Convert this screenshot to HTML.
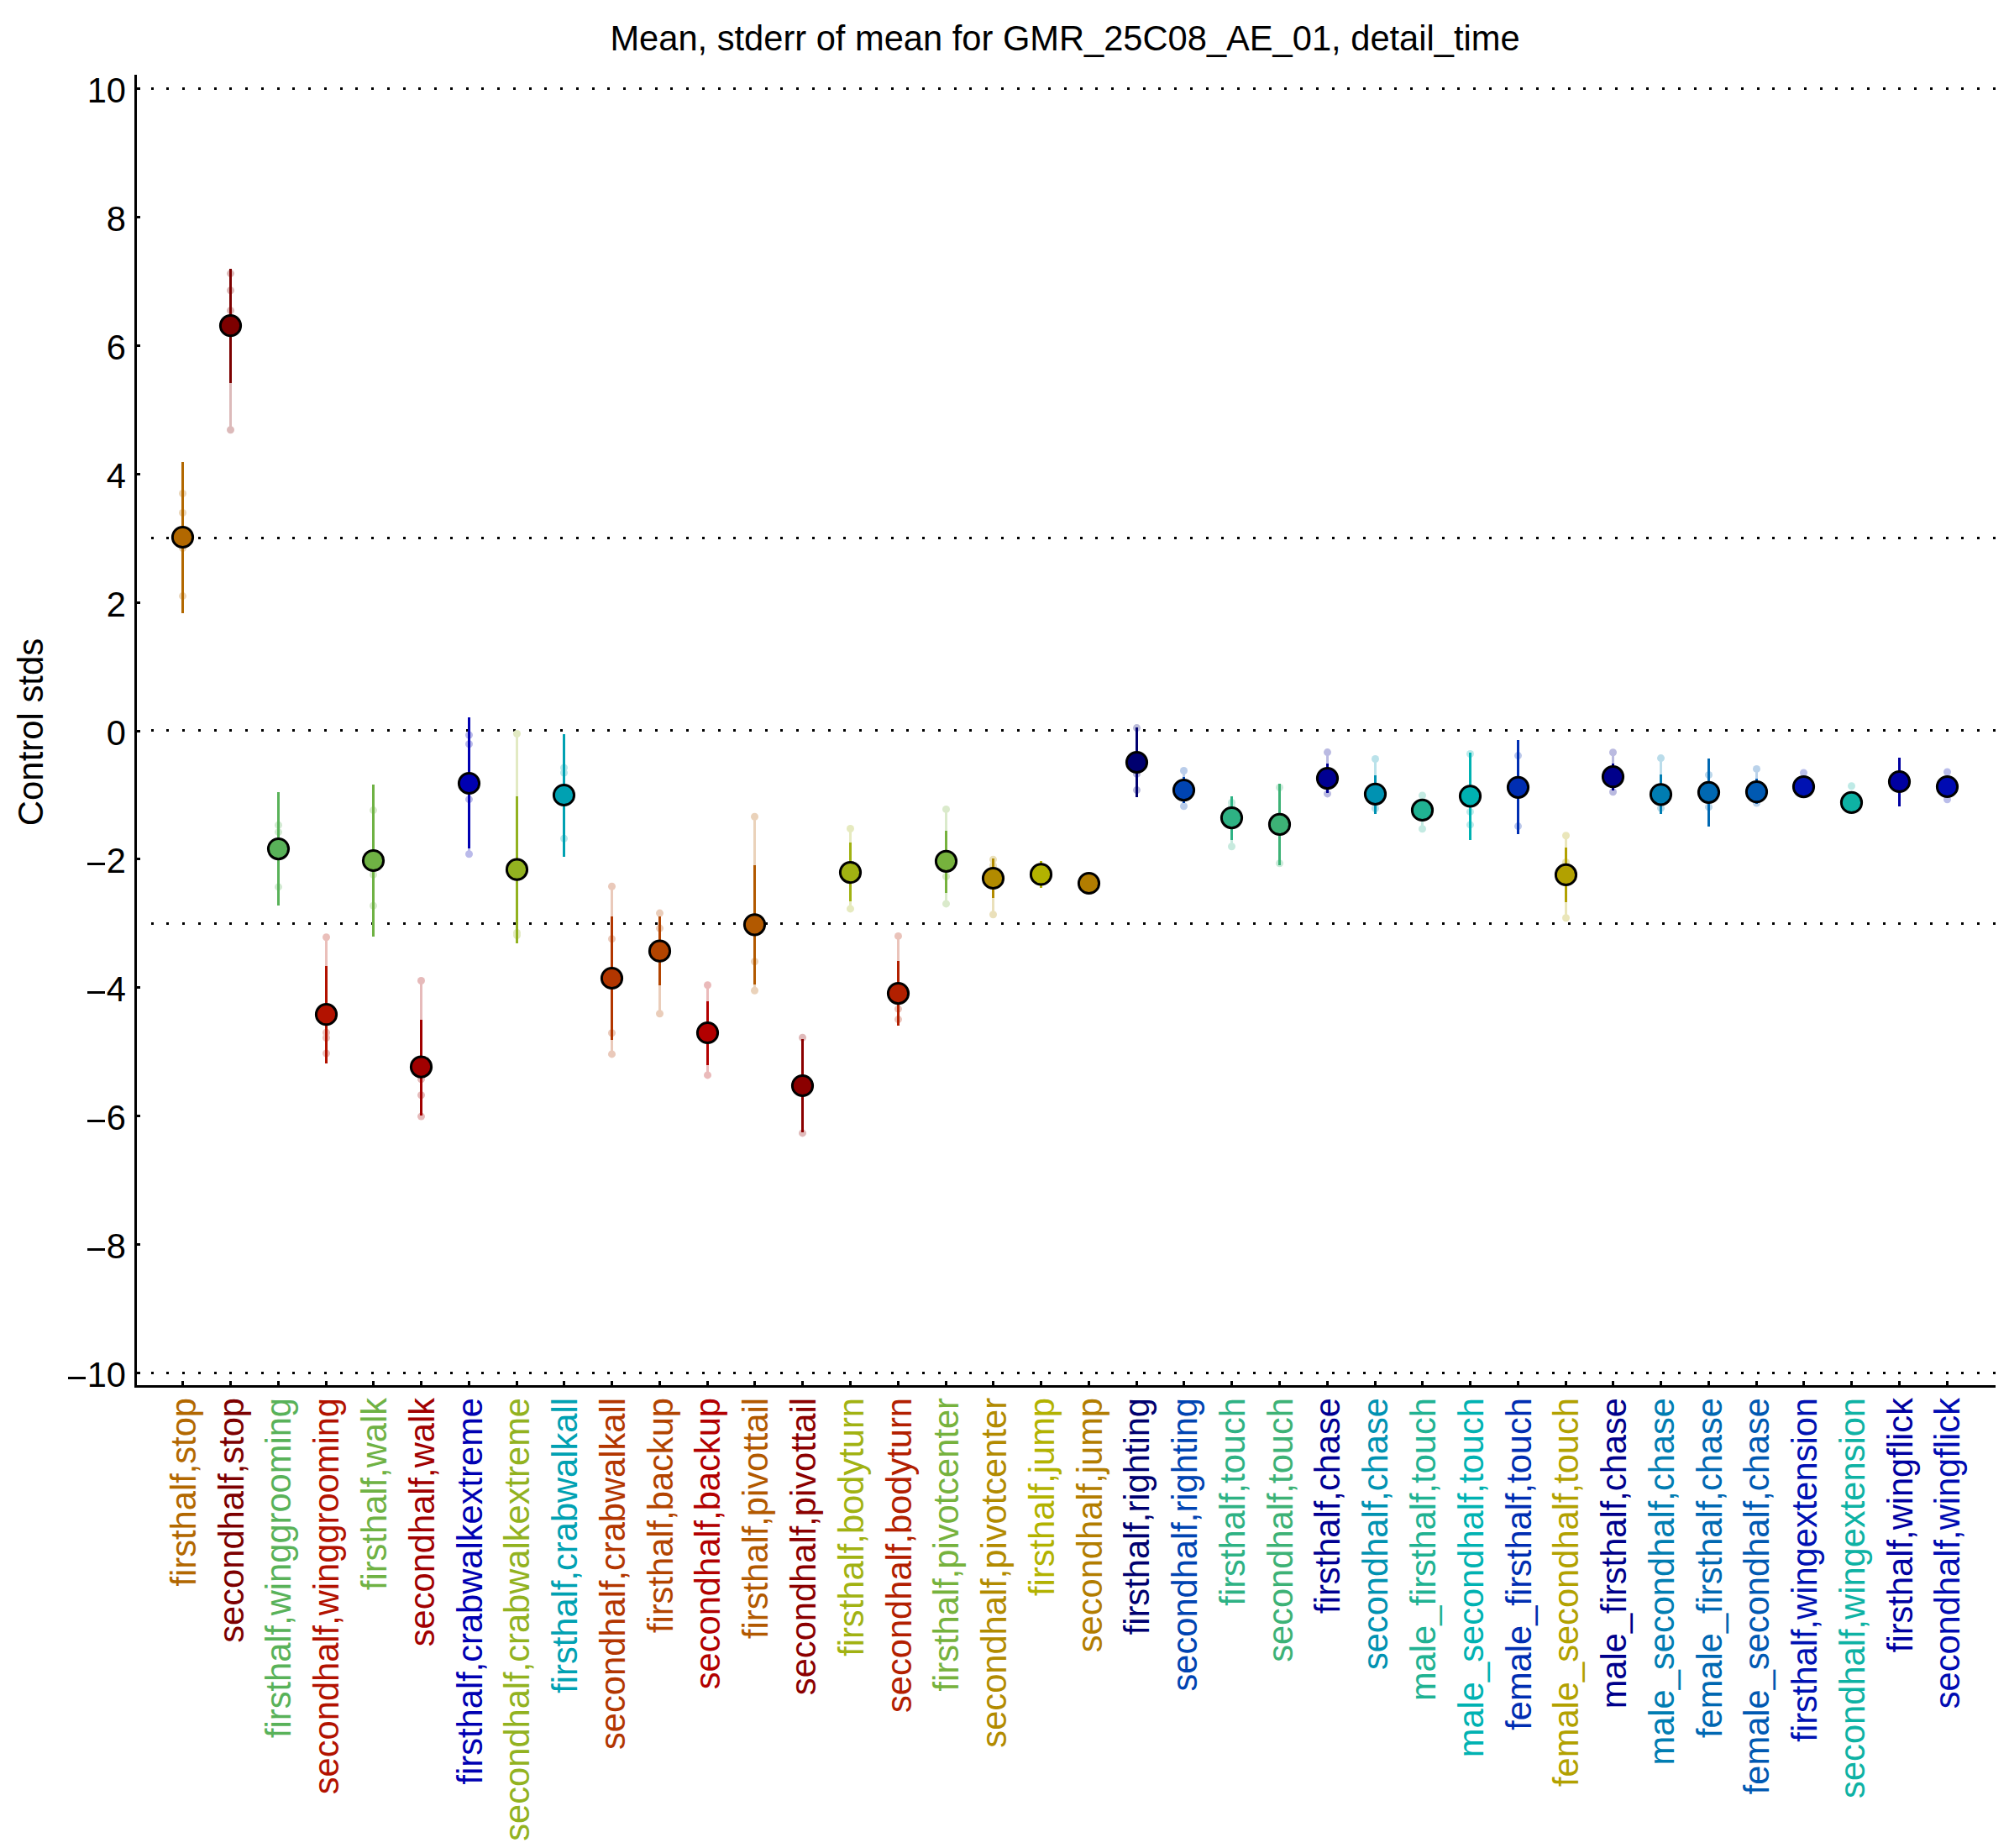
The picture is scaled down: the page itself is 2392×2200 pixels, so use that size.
<!DOCTYPE html><html><head><meta charset="utf-8"><style>html,body{margin:0;padding:0;background:#fff;width:2392px;height:2200px;overflow:hidden}svg{display:block}text{font-family:"Liberation Sans",sans-serif}</style></head><body>
<svg width="2392" height="2200" viewBox="0 0 2392 2200">
<rect width="2392" height="2200" fill="#fff"/>
<text transform="translate(1268,60) scale(1,1.035)" font-size="41.65" text-anchor="middle" fill="#000">Mean, stderr of mean for GMR_25C08_AE_01, detail_time</text>
<text transform="translate(51,871.5) rotate(-90) scale(1.005,1.04)" font-size="41.65" text-anchor="middle" fill="#000">Control stds</text>
<path fill="#000" d="M180 104h3v3h-3zM198 104h3v3h-3zM217 104h3v3h-3zM236 104h3v3h-3zM255 104h3v3h-3zM273 104h3v3h-3zM292 104h3v3h-3zM311 104h3v3h-3zM330 104h3v3h-3zM348 104h3v3h-3zM367 104h3v3h-3zM386 104h3v3h-3zM405 104h3v3h-3zM423 104h3v3h-3zM442 104h3v3h-3zM461 104h3v3h-3zM480 104h3v3h-3zM498 104h3v3h-3zM517 104h3v3h-3zM536 104h3v3h-3zM555 104h3v3h-3zM573 104h3v3h-3zM592 104h3v3h-3zM611 104h3v3h-3zM630 104h3v3h-3zM648 104h3v3h-3zM667 104h3v3h-3zM686 104h3v3h-3zM705 104h3v3h-3zM723 104h3v3h-3zM742 104h3v3h-3zM761 104h3v3h-3zM780 104h3v3h-3zM798 104h3v3h-3zM817 104h3v3h-3zM836 104h3v3h-3zM855 104h3v3h-3zM873 104h3v3h-3zM892 104h3v3h-3zM911 104h3v3h-3zM929 104h3v3h-3zM948 104h3v3h-3zM967 104h3v3h-3zM986 104h3v3h-3zM1004 104h3v3h-3zM1023 104h3v3h-3zM1042 104h3v3h-3zM1061 104h3v3h-3zM1079 104h3v3h-3zM1098 104h3v3h-3zM1117 104h3v3h-3zM1136 104h3v3h-3zM1154 104h3v3h-3zM1173 104h3v3h-3zM1192 104h3v3h-3zM1211 104h3v3h-3zM1229 104h3v3h-3zM1248 104h3v3h-3zM1267 104h3v3h-3zM1286 104h3v3h-3zM1304 104h3v3h-3zM1323 104h3v3h-3zM1342 104h3v3h-3zM1361 104h3v3h-3zM1379 104h3v3h-3zM1398 104h3v3h-3zM1417 104h3v3h-3zM1436 104h3v3h-3zM1454 104h3v3h-3zM1473 104h3v3h-3zM1492 104h3v3h-3zM1511 104h3v3h-3zM1529 104h3v3h-3zM1548 104h3v3h-3zM1567 104h3v3h-3zM1586 104h3v3h-3zM1604 104h3v3h-3zM1623 104h3v3h-3zM1642 104h3v3h-3zM1660 104h3v3h-3zM1679 104h3v3h-3zM1698 104h3v3h-3zM1717 104h3v3h-3zM1735 104h3v3h-3zM1754 104h3v3h-3zM1773 104h3v3h-3zM1792 104h3v3h-3zM1810 104h3v3h-3zM1829 104h3v3h-3zM1848 104h3v3h-3zM1867 104h3v3h-3zM1885 104h3v3h-3zM1904 104h3v3h-3zM1923 104h3v3h-3zM1942 104h3v3h-3zM1960 104h3v3h-3zM1979 104h3v3h-3zM1998 104h3v3h-3zM2017 104h3v3h-3zM2035 104h3v3h-3zM2054 104h3v3h-3zM2073 104h3v3h-3zM2092 104h3v3h-3zM2110 104h3v3h-3zM2129 104h3v3h-3zM2148 104h3v3h-3zM2167 104h3v3h-3zM2185 104h3v3h-3zM2204 104h3v3h-3zM2223 104h3v3h-3zM2242 104h3v3h-3zM2260 104h3v3h-3zM2279 104h3v3h-3zM2298 104h3v3h-3zM2317 104h3v3h-3zM2335 104h3v3h-3zM2354 104h3v3h-3zM2373 104h3v3h-3zM180 639h3v3h-3zM198 639h3v3h-3zM217 639h3v3h-3zM236 639h3v3h-3zM255 639h3v3h-3zM273 639h3v3h-3zM292 639h3v3h-3zM311 639h3v3h-3zM330 639h3v3h-3zM348 639h3v3h-3zM367 639h3v3h-3zM386 639h3v3h-3zM405 639h3v3h-3zM423 639h3v3h-3zM442 639h3v3h-3zM461 639h3v3h-3zM480 639h3v3h-3zM498 639h3v3h-3zM517 639h3v3h-3zM536 639h3v3h-3zM555 639h3v3h-3zM573 639h3v3h-3zM592 639h3v3h-3zM611 639h3v3h-3zM630 639h3v3h-3zM648 639h3v3h-3zM667 639h3v3h-3zM686 639h3v3h-3zM705 639h3v3h-3zM723 639h3v3h-3zM742 639h3v3h-3zM761 639h3v3h-3zM780 639h3v3h-3zM798 639h3v3h-3zM817 639h3v3h-3zM836 639h3v3h-3zM855 639h3v3h-3zM873 639h3v3h-3zM892 639h3v3h-3zM911 639h3v3h-3zM929 639h3v3h-3zM948 639h3v3h-3zM967 639h3v3h-3zM986 639h3v3h-3zM1004 639h3v3h-3zM1023 639h3v3h-3zM1042 639h3v3h-3zM1061 639h3v3h-3zM1079 639h3v3h-3zM1098 639h3v3h-3zM1117 639h3v3h-3zM1136 639h3v3h-3zM1154 639h3v3h-3zM1173 639h3v3h-3zM1192 639h3v3h-3zM1211 639h3v3h-3zM1229 639h3v3h-3zM1248 639h3v3h-3zM1267 639h3v3h-3zM1286 639h3v3h-3zM1304 639h3v3h-3zM1323 639h3v3h-3zM1342 639h3v3h-3zM1361 639h3v3h-3zM1379 639h3v3h-3zM1398 639h3v3h-3zM1417 639h3v3h-3zM1436 639h3v3h-3zM1454 639h3v3h-3zM1473 639h3v3h-3zM1492 639h3v3h-3zM1511 639h3v3h-3zM1529 639h3v3h-3zM1548 639h3v3h-3zM1567 639h3v3h-3zM1586 639h3v3h-3zM1604 639h3v3h-3zM1623 639h3v3h-3zM1642 639h3v3h-3zM1660 639h3v3h-3zM1679 639h3v3h-3zM1698 639h3v3h-3zM1717 639h3v3h-3zM1735 639h3v3h-3zM1754 639h3v3h-3zM1773 639h3v3h-3zM1792 639h3v3h-3zM1810 639h3v3h-3zM1829 639h3v3h-3zM1848 639h3v3h-3zM1867 639h3v3h-3zM1885 639h3v3h-3zM1904 639h3v3h-3zM1923 639h3v3h-3zM1942 639h3v3h-3zM1960 639h3v3h-3zM1979 639h3v3h-3zM1998 639h3v3h-3zM2017 639h3v3h-3zM2035 639h3v3h-3zM2054 639h3v3h-3zM2073 639h3v3h-3zM2092 639h3v3h-3zM2110 639h3v3h-3zM2129 639h3v3h-3zM2148 639h3v3h-3zM2167 639h3v3h-3zM2185 639h3v3h-3zM2204 639h3v3h-3zM2223 639h3v3h-3zM2242 639h3v3h-3zM2260 639h3v3h-3zM2279 639h3v3h-3zM2298 639h3v3h-3zM2317 639h3v3h-3zM2335 639h3v3h-3zM2354 639h3v3h-3zM2373 639h3v3h-3zM180 868h3v3h-3zM198 868h3v3h-3zM217 868h3v3h-3zM236 868h3v3h-3zM255 868h3v3h-3zM273 868h3v3h-3zM292 868h3v3h-3zM311 868h3v3h-3zM330 868h3v3h-3zM348 868h3v3h-3zM367 868h3v3h-3zM386 868h3v3h-3zM405 868h3v3h-3zM423 868h3v3h-3zM442 868h3v3h-3zM461 868h3v3h-3zM480 868h3v3h-3zM498 868h3v3h-3zM517 868h3v3h-3zM536 868h3v3h-3zM555 868h3v3h-3zM573 868h3v3h-3zM592 868h3v3h-3zM611 868h3v3h-3zM630 868h3v3h-3zM648 868h3v3h-3zM667 868h3v3h-3zM686 868h3v3h-3zM705 868h3v3h-3zM723 868h3v3h-3zM742 868h3v3h-3zM761 868h3v3h-3zM780 868h3v3h-3zM798 868h3v3h-3zM817 868h3v3h-3zM836 868h3v3h-3zM855 868h3v3h-3zM873 868h3v3h-3zM892 868h3v3h-3zM911 868h3v3h-3zM929 868h3v3h-3zM948 868h3v3h-3zM967 868h3v3h-3zM986 868h3v3h-3zM1004 868h3v3h-3zM1023 868h3v3h-3zM1042 868h3v3h-3zM1061 868h3v3h-3zM1079 868h3v3h-3zM1098 868h3v3h-3zM1117 868h3v3h-3zM1136 868h3v3h-3zM1154 868h3v3h-3zM1173 868h3v3h-3zM1192 868h3v3h-3zM1211 868h3v3h-3zM1229 868h3v3h-3zM1248 868h3v3h-3zM1267 868h3v3h-3zM1286 868h3v3h-3zM1304 868h3v3h-3zM1323 868h3v3h-3zM1342 868h3v3h-3zM1361 868h3v3h-3zM1379 868h3v3h-3zM1398 868h3v3h-3zM1417 868h3v3h-3zM1436 868h3v3h-3zM1454 868h3v3h-3zM1473 868h3v3h-3zM1492 868h3v3h-3zM1511 868h3v3h-3zM1529 868h3v3h-3zM1548 868h3v3h-3zM1567 868h3v3h-3zM1586 868h3v3h-3zM1604 868h3v3h-3zM1623 868h3v3h-3zM1642 868h3v3h-3zM1660 868h3v3h-3zM1679 868h3v3h-3zM1698 868h3v3h-3zM1717 868h3v3h-3zM1735 868h3v3h-3zM1754 868h3v3h-3zM1773 868h3v3h-3zM1792 868h3v3h-3zM1810 868h3v3h-3zM1829 868h3v3h-3zM1848 868h3v3h-3zM1867 868h3v3h-3zM1885 868h3v3h-3zM1904 868h3v3h-3zM1923 868h3v3h-3zM1942 868h3v3h-3zM1960 868h3v3h-3zM1979 868h3v3h-3zM1998 868h3v3h-3zM2017 868h3v3h-3zM2035 868h3v3h-3zM2054 868h3v3h-3zM2073 868h3v3h-3zM2092 868h3v3h-3zM2110 868h3v3h-3zM2129 868h3v3h-3zM2148 868h3v3h-3zM2167 868h3v3h-3zM2185 868h3v3h-3zM2204 868h3v3h-3zM2223 868h3v3h-3zM2242 868h3v3h-3zM2260 868h3v3h-3zM2279 868h3v3h-3zM2298 868h3v3h-3zM2317 868h3v3h-3zM2335 868h3v3h-3zM2354 868h3v3h-3zM2373 868h3v3h-3zM180 1098h3v3h-3zM198 1098h3v3h-3zM217 1098h3v3h-3zM236 1098h3v3h-3zM255 1098h3v3h-3zM273 1098h3v3h-3zM292 1098h3v3h-3zM311 1098h3v3h-3zM330 1098h3v3h-3zM348 1098h3v3h-3zM367 1098h3v3h-3zM386 1098h3v3h-3zM405 1098h3v3h-3zM423 1098h3v3h-3zM442 1098h3v3h-3zM461 1098h3v3h-3zM480 1098h3v3h-3zM498 1098h3v3h-3zM517 1098h3v3h-3zM536 1098h3v3h-3zM555 1098h3v3h-3zM573 1098h3v3h-3zM592 1098h3v3h-3zM611 1098h3v3h-3zM630 1098h3v3h-3zM648 1098h3v3h-3zM667 1098h3v3h-3zM686 1098h3v3h-3zM705 1098h3v3h-3zM723 1098h3v3h-3zM742 1098h3v3h-3zM761 1098h3v3h-3zM780 1098h3v3h-3zM798 1098h3v3h-3zM817 1098h3v3h-3zM836 1098h3v3h-3zM855 1098h3v3h-3zM873 1098h3v3h-3zM892 1098h3v3h-3zM911 1098h3v3h-3zM929 1098h3v3h-3zM948 1098h3v3h-3zM967 1098h3v3h-3zM986 1098h3v3h-3zM1004 1098h3v3h-3zM1023 1098h3v3h-3zM1042 1098h3v3h-3zM1061 1098h3v3h-3zM1079 1098h3v3h-3zM1098 1098h3v3h-3zM1117 1098h3v3h-3zM1136 1098h3v3h-3zM1154 1098h3v3h-3zM1173 1098h3v3h-3zM1192 1098h3v3h-3zM1211 1098h3v3h-3zM1229 1098h3v3h-3zM1248 1098h3v3h-3zM1267 1098h3v3h-3zM1286 1098h3v3h-3zM1304 1098h3v3h-3zM1323 1098h3v3h-3zM1342 1098h3v3h-3zM1361 1098h3v3h-3zM1379 1098h3v3h-3zM1398 1098h3v3h-3zM1417 1098h3v3h-3zM1436 1098h3v3h-3zM1454 1098h3v3h-3zM1473 1098h3v3h-3zM1492 1098h3v3h-3zM1511 1098h3v3h-3zM1529 1098h3v3h-3zM1548 1098h3v3h-3zM1567 1098h3v3h-3zM1586 1098h3v3h-3zM1604 1098h3v3h-3zM1623 1098h3v3h-3zM1642 1098h3v3h-3zM1660 1098h3v3h-3zM1679 1098h3v3h-3zM1698 1098h3v3h-3zM1717 1098h3v3h-3zM1735 1098h3v3h-3zM1754 1098h3v3h-3zM1773 1098h3v3h-3zM1792 1098h3v3h-3zM1810 1098h3v3h-3zM1829 1098h3v3h-3zM1848 1098h3v3h-3zM1867 1098h3v3h-3zM1885 1098h3v3h-3zM1904 1098h3v3h-3zM1923 1098h3v3h-3zM1942 1098h3v3h-3zM1960 1098h3v3h-3zM1979 1098h3v3h-3zM1998 1098h3v3h-3zM2017 1098h3v3h-3zM2035 1098h3v3h-3zM2054 1098h3v3h-3zM2073 1098h3v3h-3zM2092 1098h3v3h-3zM2110 1098h3v3h-3zM2129 1098h3v3h-3zM2148 1098h3v3h-3zM2167 1098h3v3h-3zM2185 1098h3v3h-3zM2204 1098h3v3h-3zM2223 1098h3v3h-3zM2242 1098h3v3h-3zM2260 1098h3v3h-3zM2279 1098h3v3h-3zM2298 1098h3v3h-3zM2317 1098h3v3h-3zM2335 1098h3v3h-3zM2354 1098h3v3h-3zM2373 1098h3v3h-3zM180 1633h3v3h-3zM198 1633h3v3h-3zM217 1633h3v3h-3zM236 1633h3v3h-3zM255 1633h3v3h-3zM273 1633h3v3h-3zM292 1633h3v3h-3zM311 1633h3v3h-3zM330 1633h3v3h-3zM348 1633h3v3h-3zM367 1633h3v3h-3zM386 1633h3v3h-3zM405 1633h3v3h-3zM423 1633h3v3h-3zM442 1633h3v3h-3zM461 1633h3v3h-3zM480 1633h3v3h-3zM498 1633h3v3h-3zM517 1633h3v3h-3zM536 1633h3v3h-3zM555 1633h3v3h-3zM573 1633h3v3h-3zM592 1633h3v3h-3zM611 1633h3v3h-3zM630 1633h3v3h-3zM648 1633h3v3h-3zM667 1633h3v3h-3zM686 1633h3v3h-3zM705 1633h3v3h-3zM723 1633h3v3h-3zM742 1633h3v3h-3zM761 1633h3v3h-3zM780 1633h3v3h-3zM798 1633h3v3h-3zM817 1633h3v3h-3zM836 1633h3v3h-3zM855 1633h3v3h-3zM873 1633h3v3h-3zM892 1633h3v3h-3zM911 1633h3v3h-3zM929 1633h3v3h-3zM948 1633h3v3h-3zM967 1633h3v3h-3zM986 1633h3v3h-3zM1004 1633h3v3h-3zM1023 1633h3v3h-3zM1042 1633h3v3h-3zM1061 1633h3v3h-3zM1079 1633h3v3h-3zM1098 1633h3v3h-3zM1117 1633h3v3h-3zM1136 1633h3v3h-3zM1154 1633h3v3h-3zM1173 1633h3v3h-3zM1192 1633h3v3h-3zM1211 1633h3v3h-3zM1229 1633h3v3h-3zM1248 1633h3v3h-3zM1267 1633h3v3h-3zM1286 1633h3v3h-3zM1304 1633h3v3h-3zM1323 1633h3v3h-3zM1342 1633h3v3h-3zM1361 1633h3v3h-3zM1379 1633h3v3h-3zM1398 1633h3v3h-3zM1417 1633h3v3h-3zM1436 1633h3v3h-3zM1454 1633h3v3h-3zM1473 1633h3v3h-3zM1492 1633h3v3h-3zM1511 1633h3v3h-3zM1529 1633h3v3h-3zM1548 1633h3v3h-3zM1567 1633h3v3h-3zM1586 1633h3v3h-3zM1604 1633h3v3h-3zM1623 1633h3v3h-3zM1642 1633h3v3h-3zM1660 1633h3v3h-3zM1679 1633h3v3h-3zM1698 1633h3v3h-3zM1717 1633h3v3h-3zM1735 1633h3v3h-3zM1754 1633h3v3h-3zM1773 1633h3v3h-3zM1792 1633h3v3h-3zM1810 1633h3v3h-3zM1829 1633h3v3h-3zM1848 1633h3v3h-3zM1867 1633h3v3h-3zM1885 1633h3v3h-3zM1904 1633h3v3h-3zM1923 1633h3v3h-3zM1942 1633h3v3h-3zM1960 1633h3v3h-3zM1979 1633h3v3h-3zM1998 1633h3v3h-3zM2017 1633h3v3h-3zM2035 1633h3v3h-3zM2054 1633h3v3h-3zM2073 1633h3v3h-3zM2092 1633h3v3h-3zM2110 1633h3v3h-3zM2129 1633h3v3h-3zM2148 1633h3v3h-3zM2167 1633h3v3h-3zM2185 1633h3v3h-3zM2204 1633h3v3h-3zM2223 1633h3v3h-3zM2242 1633h3v3h-3zM2260 1633h3v3h-3zM2279 1633h3v3h-3zM2298 1633h3v3h-3zM2317 1633h3v3h-3zM2335 1633h3v3h-3zM2354 1633h3v3h-3zM2373 1633h3v3h-3z"/>
<rect x="160" y="89" width="3" height="1562" fill="#000"/>
<rect x="160" y="1649" width="2216" height="3" fill="#000"/>
<rect x="160" y="1633" width="7" height="3" fill="#000"/>
<text transform="translate(150,1650.8) scale(1,1.035)" font-size="41.65" text-anchor="end" fill="#000">10</text>
<rect x="81" y="1639" width="21" height="3" fill="#000"/>
<rect x="160" y="1480" width="7" height="3" fill="#000"/>
<text transform="translate(150,1497.8) scale(1,1.035)" font-size="41.65" text-anchor="end" fill="#000">8</text>
<rect x="104" y="1486" width="21" height="3" fill="#000"/>
<rect x="160" y="1327" width="7" height="3" fill="#000"/>
<text transform="translate(150,1344.8) scale(1,1.035)" font-size="41.65" text-anchor="end" fill="#000">6</text>
<rect x="104" y="1333" width="21" height="3" fill="#000"/>
<rect x="160" y="1174" width="7" height="3" fill="#000"/>
<text transform="translate(150,1191.8) scale(1,1.035)" font-size="41.65" text-anchor="end" fill="#000">4</text>
<rect x="104" y="1180" width="21" height="3" fill="#000"/>
<rect x="160" y="1021" width="7" height="3" fill="#000"/>
<text transform="translate(150,1038.8) scale(1,1.035)" font-size="41.65" text-anchor="end" fill="#000">2</text>
<rect x="104" y="1027" width="21" height="3" fill="#000"/>
<rect x="160" y="869" width="7" height="3" fill="#000"/>
<text transform="translate(150,886.8) scale(1,1.035)" font-size="41.65" text-anchor="end" fill="#000">0</text>
<rect x="160" y="716" width="7" height="3" fill="#000"/>
<text transform="translate(150,733.8) scale(1,1.035)" font-size="41.65" text-anchor="end" fill="#000">2</text>
<rect x="160" y="563" width="7" height="3" fill="#000"/>
<text transform="translate(150,580.8) scale(1,1.035)" font-size="41.65" text-anchor="end" fill="#000">4</text>
<rect x="160" y="410" width="7" height="3" fill="#000"/>
<text transform="translate(150,427.8) scale(1,1.035)" font-size="41.65" text-anchor="end" fill="#000">6</text>
<rect x="160" y="257" width="7" height="3" fill="#000"/>
<text transform="translate(150,274.8) scale(1,1.035)" font-size="41.65" text-anchor="end" fill="#000">8</text>
<rect x="160" y="104" width="7" height="3" fill="#000"/>
<text transform="translate(150,121.8) scale(1,1.035)" font-size="41.65" text-anchor="end" fill="#000">10</text>
<rect x="216" y="1644" width="3" height="6" fill="#000"/>
<rect x="273" y="1644" width="3" height="6" fill="#000"/>
<rect x="330" y="1644" width="3" height="6" fill="#000"/>
<rect x="387" y="1644" width="3" height="6" fill="#000"/>
<rect x="443" y="1644" width="3" height="6" fill="#000"/>
<rect x="500" y="1644" width="3" height="6" fill="#000"/>
<rect x="557" y="1644" width="3" height="6" fill="#000"/>
<rect x="614" y="1644" width="3" height="6" fill="#000"/>
<rect x="670" y="1644" width="3" height="6" fill="#000"/>
<rect x="727" y="1644" width="3" height="6" fill="#000"/>
<rect x="784" y="1644" width="3" height="6" fill="#000"/>
<rect x="841" y="1644" width="3" height="6" fill="#000"/>
<rect x="897" y="1644" width="3" height="6" fill="#000"/>
<rect x="954" y="1644" width="3" height="6" fill="#000"/>
<rect x="1011" y="1644" width="3" height="6" fill="#000"/>
<rect x="1068" y="1644" width="3" height="6" fill="#000"/>
<rect x="1125" y="1644" width="3" height="6" fill="#000"/>
<rect x="1181" y="1644" width="3" height="6" fill="#000"/>
<rect x="1238" y="1644" width="3" height="6" fill="#000"/>
<rect x="1295" y="1644" width="3" height="6" fill="#000"/>
<rect x="1352" y="1644" width="3" height="6" fill="#000"/>
<rect x="1408" y="1644" width="3" height="6" fill="#000"/>
<rect x="1465" y="1644" width="3" height="6" fill="#000"/>
<rect x="1522" y="1644" width="3" height="6" fill="#000"/>
<rect x="1579" y="1644" width="3" height="6" fill="#000"/>
<rect x="1636" y="1644" width="3" height="6" fill="#000"/>
<rect x="1692" y="1644" width="3" height="6" fill="#000"/>
<rect x="1749" y="1644" width="3" height="6" fill="#000"/>
<rect x="1806" y="1644" width="3" height="6" fill="#000"/>
<rect x="1863" y="1644" width="3" height="6" fill="#000"/>
<rect x="1919" y="1644" width="3" height="6" fill="#000"/>
<rect x="1976" y="1644" width="3" height="6" fill="#000"/>
<rect x="2033" y="1644" width="3" height="6" fill="#000"/>
<rect x="2090" y="1644" width="3" height="6" fill="#000"/>
<rect x="2146" y="1644" width="3" height="6" fill="#000"/>
<rect x="2203" y="1644" width="3" height="6" fill="#000"/>
<rect x="2260" y="1644" width="3" height="6" fill="#000"/>
<rect x="2317" y="1644" width="3" height="6" fill="#000"/>
<rect x="216" y="588" width="3" height="122" fill="#ead6ba"/>
<circle cx="217.5" cy="587.5" r="4.5" fill="#ead6ba"/>
<circle cx="217.5" cy="610.5" r="4.5" fill="#ead6ba"/>
<circle cx="217.5" cy="652.5" r="4.5" fill="#ead6ba"/>
<circle cx="217.5" cy="709.6" r="4.5" fill="#ead6ba"/>
<rect x="216" y="550" width="3" height="180" fill="#b26800"/>
<circle cx="217.5" cy="639.5" r="12.1" fill="#b26800" stroke="#000" stroke-width="3"/>
<rect x="273" y="326" width="3" height="186" fill="#dcbaba"/>
<circle cx="274.5" cy="325.6" r="4.5" fill="#dcbaba"/>
<circle cx="274.5" cy="345.7" r="4.5" fill="#dcbaba"/>
<circle cx="274.5" cy="369.7" r="4.5" fill="#dcbaba"/>
<circle cx="274.5" cy="511.7" r="4.5" fill="#dcbaba"/>
<rect x="273" y="320" width="3" height="136" fill="#7d0000"/>
<circle cx="274.5" cy="387.7" r="12.1" fill="#7d0000" stroke="#000" stroke-width="3"/>
<rect x="330" y="982" width="3" height="74" fill="#d2ead2"/>
<circle cx="331.5" cy="982.3" r="4.5" fill="#d2ead2"/>
<circle cx="331.5" cy="990.6" r="4.5" fill="#d2ead2"/>
<circle cx="331.5" cy="1055.9" r="4.5" fill="#d2ead2"/>
<rect x="330" y="943" width="3" height="135" fill="#59b259"/>
<circle cx="331.5" cy="1010.6" r="12.1" fill="#59b259" stroke="#000" stroke-width="3"/>
<rect x="387" y="1116" width="3" height="138" fill="#eabfba"/>
<circle cx="388.5" cy="1115.7" r="4.5" fill="#eabfba"/>
<circle cx="388.5" cy="1229.3" r="4.5" fill="#eabfba"/>
<circle cx="388.5" cy="1235.5" r="4.5" fill="#eabfba"/>
<circle cx="388.5" cy="1254" r="4.5" fill="#eabfba"/>
<rect x="387" y="1150" width="3" height="116" fill="#b21200"/>
<circle cx="388.5" cy="1207.7" r="12.1" fill="#b21200" stroke="#000" stroke-width="3"/>
<rect x="443" y="965" width="3" height="113" fill="#d8eacd"/>
<circle cx="444.5" cy="964.6" r="4.5" fill="#d8eacd"/>
<circle cx="444.5" cy="1041.4" r="4.5" fill="#d8eacd"/>
<circle cx="444.5" cy="1078.3" r="4.5" fill="#d8eacd"/>
<rect x="443" y="934" width="3" height="181" fill="#6fb244"/>
<circle cx="444.5" cy="1024.5" r="12.1" fill="#6fb244" stroke="#000" stroke-width="3"/>
<rect x="500" y="1168" width="3" height="161" fill="#e6baba"/>
<circle cx="501.5" cy="1167.5" r="4.5" fill="#e6baba"/>
<circle cx="501.5" cy="1284.7" r="4.5" fill="#e6baba"/>
<circle cx="501.5" cy="1303.7" r="4.5" fill="#e6baba"/>
<circle cx="501.5" cy="1329.1" r="4.5" fill="#e6baba"/>
<rect x="500" y="1214" width="3" height="114" fill="#a10000"/>
<circle cx="501.5" cy="1270.1" r="12.1" fill="#a10000" stroke="#000" stroke-width="3"/>
<rect x="557" y="875" width="3" height="142" fill="#babaea"/>
<circle cx="558.5" cy="875" r="4.5" fill="#babaea"/>
<circle cx="558.5" cy="885.8" r="4.5" fill="#babaea"/>
<circle cx="558.5" cy="951.6" r="4.5" fill="#babaea"/>
<circle cx="558.5" cy="1016.8" r="4.5" fill="#babaea"/>
<rect x="557" y="854" width="3" height="156" fill="#0000b2"/>
<circle cx="558.5" cy="932.5" r="12.1" fill="#0000b2" stroke="#000" stroke-width="3"/>
<rect x="614" y="874" width="3" height="240" fill="#e2eac3"/>
<circle cx="615.5" cy="873.5" r="4.5" fill="#e2eac3"/>
<circle cx="615.5" cy="1110.5" r="4.5" fill="#e2eac3"/>
<circle cx="615.5" cy="1113.5" r="4.5" fill="#e2eac3"/>
<rect x="614" y="948" width="3" height="175" fill="#92b220"/>
<circle cx="615.5" cy="1035.2" r="12.1" fill="#92b220" stroke="#000" stroke-width="3"/>
<rect x="670" y="914" width="3" height="84" fill="#bae6ea"/>
<circle cx="671.5" cy="914" r="4.5" fill="#bae6ea"/>
<circle cx="671.5" cy="920" r="4.5" fill="#bae6ea"/>
<circle cx="671.5" cy="998.3" r="4.5" fill="#bae6ea"/>
<rect x="670" y="874" width="3" height="146" fill="#00a1b2"/>
<circle cx="671.5" cy="946.5" r="12.1" fill="#00a1b2" stroke="#000" stroke-width="3"/>
<rect x="727" y="1055" width="3" height="200" fill="#eac9ba"/>
<circle cx="728.5" cy="1055.2" r="4.5" fill="#eac9ba"/>
<circle cx="728.5" cy="1117.7" r="4.5" fill="#eac9ba"/>
<circle cx="728.5" cy="1229.7" r="4.5" fill="#eac9ba"/>
<circle cx="728.5" cy="1254.9" r="4.5" fill="#eac9ba"/>
<rect x="727" y="1091" width="3" height="147" fill="#b23600"/>
<circle cx="728.5" cy="1164.5" r="12.1" fill="#b23600" stroke="#000" stroke-width="3"/>
<rect x="784" y="1087" width="3" height="120" fill="#eacdba"/>
<circle cx="785.5" cy="1087.1" r="4.5" fill="#eacdba"/>
<circle cx="785.5" cy="1105.1" r="4.5" fill="#eacdba"/>
<circle cx="785.5" cy="1206.7" r="4.5" fill="#eacdba"/>
<rect x="784" y="1091" width="3" height="82" fill="#b24400"/>
<circle cx="785.5" cy="1132.2" r="12.1" fill="#b24400" stroke="#000" stroke-width="3"/>
<rect x="841" y="1173" width="3" height="107" fill="#eababa"/>
<circle cx="842.5" cy="1172.7" r="4.5" fill="#eababa"/>
<circle cx="842.5" cy="1279.9" r="4.5" fill="#eababa"/>
<rect x="841" y="1192" width="3" height="76" fill="#b20000"/>
<circle cx="842.5" cy="1229.5" r="12.1" fill="#b20000" stroke="#000" stroke-width="3"/>
<rect x="897" y="972" width="3" height="207" fill="#ead2ba"/>
<circle cx="898.5" cy="972.3" r="4.5" fill="#ead2ba"/>
<circle cx="898.5" cy="1144.8" r="4.5" fill="#ead2ba"/>
<circle cx="898.5" cy="1179.3" r="4.5" fill="#ead2ba"/>
<rect x="897" y="1030" width="3" height="142" fill="#b25900"/>
<circle cx="898.5" cy="1100.8" r="12.1" fill="#b25900" stroke="#000" stroke-width="3"/>
<rect x="954" y="1235" width="3" height="114" fill="#e0baba"/>
<circle cx="955.5" cy="1235.3" r="4.5" fill="#e0baba"/>
<circle cx="955.5" cy="1348.9" r="4.5" fill="#e0baba"/>
<rect x="954" y="1237" width="3" height="111" fill="#8b0000"/>
<circle cx="955.5" cy="1292.5" r="12.1" fill="#8b0000" stroke="#000" stroke-width="3"/>
<rect x="1011" y="986" width="3" height="96" fill="#e6eabf"/>
<circle cx="1012.5" cy="986.5" r="4.5" fill="#e6eabf"/>
<circle cx="1012.5" cy="1081.9" r="4.5" fill="#e6eabf"/>
<rect x="1011" y="1003" width="3" height="70" fill="#a1b212"/>
<circle cx="1012.5" cy="1038.6" r="12.1" fill="#a1b212" stroke="#000" stroke-width="3"/>
<rect x="1068" y="1114" width="3" height="100" fill="#eac3ba"/>
<circle cx="1069.5" cy="1114.4" r="4.5" fill="#eac3ba"/>
<circle cx="1069.5" cy="1201.1" r="4.5" fill="#eac3ba"/>
<circle cx="1069.5" cy="1213.6" r="4.5" fill="#eac3ba"/>
<rect x="1068" y="1144" width="3" height="77" fill="#b22000"/>
<circle cx="1069.5" cy="1182.6" r="12.1" fill="#b22000" stroke="#000" stroke-width="3"/>
<rect x="1125" y="963" width="3" height="113" fill="#daeacb"/>
<circle cx="1126.5" cy="963.4" r="4.5" fill="#daeacb"/>
<circle cx="1126.5" cy="1043.5" r="4.5" fill="#daeacb"/>
<circle cx="1126.5" cy="1075.9" r="4.5" fill="#daeacb"/>
<rect x="1125" y="989" width="3" height="74" fill="#76b23d"/>
<circle cx="1126.5" cy="1025.3" r="12.1" fill="#76b23d" stroke="#000" stroke-width="3"/>
<rect x="1181" y="1023" width="3" height="66" fill="#eae0ba"/>
<circle cx="1182.5" cy="1023.2" r="4.5" fill="#eae0ba"/>
<circle cx="1182.5" cy="1030.4" r="4.5" fill="#eae0ba"/>
<circle cx="1182.5" cy="1088.7" r="4.5" fill="#eae0ba"/>
<rect x="1181" y="1022" width="3" height="47" fill="#b28b00"/>
<circle cx="1182.5" cy="1045.5" r="12.1" fill="#b28b00" stroke="#000" stroke-width="3"/>
<rect x="1238" y="1025" width="3" height="32" fill="#b2b200"/>
<circle cx="1239.5" cy="1040.9" r="12.1" fill="#b2b200" stroke="#000" stroke-width="3"/>
<circle cx="1296.5" cy="1051.5" r="12.1" fill="#b27d00" stroke="#000" stroke-width="3"/>
<rect x="1352" y="867" width="3" height="74" fill="#babad8"/>
<circle cx="1353.5" cy="866.6" r="4.5" fill="#babad8"/>
<circle cx="1353.5" cy="921.4" r="4.5" fill="#babad8"/>
<circle cx="1353.5" cy="940.6" r="4.5" fill="#babad8"/>
<rect x="1352" y="866" width="3" height="83" fill="#00006f"/>
<circle cx="1353.5" cy="907.5" r="12.1" fill="#00006f" stroke="#000" stroke-width="3"/>
<rect x="1408" y="918" width="3" height="42" fill="#bacdea"/>
<circle cx="1409.5" cy="917.5" r="4.5" fill="#bacdea"/>
<circle cx="1409.5" cy="959.7" r="4.5" fill="#bacdea"/>
<rect x="1408" y="925" width="3" height="31" fill="#0044b2"/>
<circle cx="1409.5" cy="940.6" r="12.1" fill="#0044b2" stroke="#000" stroke-width="3"/>
<rect x="1465" y="955" width="3" height="53" fill="#c7eade"/>
<circle cx="1466.5" cy="955.4" r="4.5" fill="#c7eade"/>
<circle cx="1466.5" cy="960.3" r="4.5" fill="#c7eade"/>
<circle cx="1466.5" cy="1007.7" r="4.5" fill="#c7eade"/>
<rect x="1465" y="948" width="3" height="52" fill="#2eb284"/>
<circle cx="1466.5" cy="973.6" r="12.1" fill="#2eb284" stroke="#000" stroke-width="3"/>
<rect x="1522" y="938" width="3" height="90" fill="#cbeada"/>
<circle cx="1523.5" cy="937.5" r="4.5" fill="#cbeada"/>
<circle cx="1523.5" cy="1027.8" r="4.5" fill="#cbeada"/>
<rect x="1522" y="933" width="3" height="97" fill="#3db276"/>
<circle cx="1523.5" cy="981.4" r="12.1" fill="#3db276" stroke="#000" stroke-width="3"/>
<rect x="1579" y="896" width="3" height="49" fill="#babae2"/>
<circle cx="1580.5" cy="895.6" r="4.5" fill="#babae2"/>
<circle cx="1580.5" cy="944.9" r="4.5" fill="#babae2"/>
<rect x="1579" y="909" width="3" height="35" fill="#000092"/>
<circle cx="1580.5" cy="926.6" r="12.1" fill="#000092" stroke="#000" stroke-width="3"/>
<rect x="1636" y="904" width="3" height="58" fill="#bae2ea"/>
<circle cx="1637.5" cy="903.5" r="4.5" fill="#bae2ea"/>
<circle cx="1637.5" cy="962.5" r="4.5" fill="#bae2ea"/>
<rect x="1636" y="923" width="3" height="46" fill="#0092b2"/>
<circle cx="1637.5" cy="945.3" r="12.1" fill="#0092b2" stroke="#000" stroke-width="3"/>
<rect x="1692" y="947" width="3" height="40" fill="#c3eae2"/>
<circle cx="1693.5" cy="947" r="4.5" fill="#c3eae2"/>
<circle cx="1693.5" cy="986.7" r="4.5" fill="#c3eae2"/>
<circle cx="1693.5" cy="964.4" r="12.1" fill="#20b292" stroke="#000" stroke-width="3"/>
<rect x="1749" y="898" width="3" height="84" fill="#baeaea"/>
<circle cx="1750.5" cy="897.5" r="4.5" fill="#baeaea"/>
<circle cx="1750.5" cy="966.4" r="4.5" fill="#baeaea"/>
<circle cx="1750.5" cy="981.9" r="4.5" fill="#baeaea"/>
<rect x="1749" y="896" width="3" height="104" fill="#00b2b2"/>
<circle cx="1750.5" cy="947.8" r="12.1" fill="#00b2b2" stroke="#000" stroke-width="3"/>
<rect x="1806" y="900" width="3" height="84" fill="#bac7ea"/>
<circle cx="1807.5" cy="899.6" r="4.5" fill="#bac7ea"/>
<circle cx="1807.5" cy="983.6" r="4.5" fill="#bac7ea"/>
<rect x="1806" y="881" width="3" height="112" fill="#002eb2"/>
<circle cx="1807.5" cy="937.3" r="12.1" fill="#002eb2" stroke="#000" stroke-width="3"/>
<rect x="1863" y="995" width="3" height="98" fill="#eae6ba"/>
<circle cx="1864.5" cy="994.7" r="4.5" fill="#eae6ba"/>
<circle cx="1864.5" cy="1026.5" r="4.5" fill="#eae6ba"/>
<circle cx="1864.5" cy="1092.7" r="4.5" fill="#eae6ba"/>
<rect x="1863" y="1009" width="3" height="65" fill="#b2a100"/>
<circle cx="1864.5" cy="1041.4" r="12.1" fill="#b2a100" stroke="#000" stroke-width="3"/>
<rect x="1919" y="896" width="3" height="47" fill="#babae0"/>
<circle cx="1920.5" cy="895.8" r="4.5" fill="#babae0"/>
<circle cx="1920.5" cy="942.7" r="4.5" fill="#babae0"/>
<rect x="1919" y="909" width="3" height="32" fill="#00008b"/>
<circle cx="1920.5" cy="924.7" r="12.1" fill="#00008b" stroke="#000" stroke-width="3"/>
<rect x="1976" y="903" width="3" height="59" fill="#badcea"/>
<circle cx="1977.5" cy="902.6" r="4.5" fill="#badcea"/>
<circle cx="1977.5" cy="962" r="4.5" fill="#badcea"/>
<rect x="1976" y="922" width="3" height="47" fill="#007db2"/>
<circle cx="1977.5" cy="945.8" r="12.1" fill="#007db2" stroke="#000" stroke-width="3"/>
<rect x="2033" y="922" width="3" height="39" fill="#bad6ea"/>
<circle cx="2034.5" cy="922.5" r="4.5" fill="#bad6ea"/>
<circle cx="2034.5" cy="960.8" r="4.5" fill="#bad6ea"/>
<rect x="2033" y="903" width="3" height="81" fill="#0068b2"/>
<circle cx="2034.5" cy="943.3" r="12.1" fill="#0068b2" stroke="#000" stroke-width="3"/>
<rect x="2090" y="915" width="3" height="41" fill="#bad2ea"/>
<circle cx="2091.5" cy="915.4" r="4.5" fill="#bad2ea"/>
<circle cx="2091.5" cy="956" r="4.5" fill="#bad2ea"/>
<rect x="2090" y="927" width="3" height="30" fill="#0059b2"/>
<circle cx="2091.5" cy="942.7" r="12.1" fill="#0059b2" stroke="#000" stroke-width="3"/>
<rect x="2146" y="920" width="3" height="0" fill="#babfea"/>
<circle cx="2147.5" cy="919.9" r="4.5" fill="#babfea"/>
<circle cx="2147.5" cy="936.6" r="12.1" fill="#0012b2" stroke="#000" stroke-width="3"/>
<rect x="2203" y="936" width="3" height="0" fill="#beeae6"/>
<circle cx="2204.5" cy="935.7" r="4.5" fill="#beeae6"/>
<circle cx="2204.5" cy="955.4" r="12.1" fill="#0eb2a4" stroke="#000" stroke-width="3"/>
<rect x="2260" y="902" width="3" height="58" fill="#0000a1"/>
<circle cx="2261.5" cy="930.5" r="12.1" fill="#0000a1" stroke="#000" stroke-width="3"/>
<rect x="2317" y="919" width="3" height="33" fill="#babdea"/>
<circle cx="2318.5" cy="919" r="4.5" fill="#babdea"/>
<circle cx="2318.5" cy="951.8" r="4.5" fill="#babdea"/>
<circle cx="2318.5" cy="936.5" r="12.1" fill="#000bb2" stroke="#000" stroke-width="3"/>
<text transform="translate(232.95,1664) rotate(-90)" font-size="41.65" text-anchor="end" fill="#b26800">firsthalf,stop</text>
<text transform="translate(289.72,1664) rotate(-90)" font-size="41.65" text-anchor="end" fill="#7d0000">secondhalf,stop</text>
<text transform="translate(346.49,1664) rotate(-90)" font-size="41.65" text-anchor="end" fill="#59b259">firsthalf,winggrooming</text>
<text transform="translate(403.26,1664) rotate(-90)" font-size="41.65" text-anchor="end" fill="#b21200">secondhalf,winggrooming</text>
<text transform="translate(460.03,1664) rotate(-90)" font-size="41.65" text-anchor="end" fill="#6fb244">firsthalf,walk</text>
<text transform="translate(516.80,1664) rotate(-90)" font-size="41.65" text-anchor="end" fill="#a10000">secondhalf,walk</text>
<text transform="translate(573.57,1664) rotate(-90)" font-size="41.65" text-anchor="end" fill="#0000b2">firsthalf,crabwalkextreme</text>
<text transform="translate(630.34,1664) rotate(-90)" font-size="41.65" text-anchor="end" fill="#92b220">secondhalf,crabwalkextreme</text>
<text transform="translate(687.11,1664) rotate(-90)" font-size="41.65" text-anchor="end" fill="#00a1b2">firsthalf,crabwalkall</text>
<text transform="translate(743.88,1664) rotate(-90)" font-size="41.65" text-anchor="end" fill="#b23600">secondhalf,crabwalkall</text>
<text transform="translate(800.65,1664) rotate(-90)" font-size="41.65" text-anchor="end" fill="#b24400">firsthalf,backup</text>
<text transform="translate(857.42,1664) rotate(-90)" font-size="41.65" text-anchor="end" fill="#b20000">secondhalf,backup</text>
<text transform="translate(914.19,1664) rotate(-90)" font-size="41.65" text-anchor="end" fill="#b25900">firsthalf,pivottail</text>
<text transform="translate(970.96,1664) rotate(-90)" font-size="41.65" text-anchor="end" fill="#8b0000">secondhalf,pivottail</text>
<text transform="translate(1027.73,1664) rotate(-90)" font-size="41.65" text-anchor="end" fill="#a1b212">firsthalf,bodyturn</text>
<text transform="translate(1084.50,1664) rotate(-90)" font-size="41.65" text-anchor="end" fill="#b22000">secondhalf,bodyturn</text>
<text transform="translate(1141.27,1664) rotate(-90)" font-size="41.65" text-anchor="end" fill="#76b23d">firsthalf,pivotcenter</text>
<text transform="translate(1198.04,1664) rotate(-90)" font-size="41.65" text-anchor="end" fill="#b28b00">secondhalf,pivotcenter</text>
<text transform="translate(1254.81,1664) rotate(-90)" font-size="41.65" text-anchor="end" fill="#b2b200">firsthalf,jump</text>
<text transform="translate(1311.58,1664) rotate(-90)" font-size="41.65" text-anchor="end" fill="#b27d00">secondhalf,jump</text>
<text transform="translate(1368.35,1664) rotate(-90)" font-size="41.65" text-anchor="end" fill="#00006f">firsthalf,righting</text>
<text transform="translate(1425.12,1664) rotate(-90)" font-size="41.65" text-anchor="end" fill="#0044b2">secondhalf,righting</text>
<text transform="translate(1481.89,1664) rotate(-90)" font-size="41.65" text-anchor="end" fill="#2eb284">firsthalf,touch</text>
<text transform="translate(1538.66,1664) rotate(-90)" font-size="41.65" text-anchor="end" fill="#3db276">secondhalf,touch</text>
<text transform="translate(1595.43,1664) rotate(-90)" font-size="41.65" text-anchor="end" fill="#000092">firsthalf,chase</text>
<text transform="translate(1652.20,1664) rotate(-90)" font-size="41.65" text-anchor="end" fill="#0092b2">secondhalf,chase</text>
<text transform="translate(1708.97,1664) rotate(-90)" font-size="41.65" text-anchor="end" fill="#20b292">male_firsthalf,touch</text>
<text transform="translate(1765.74,1664) rotate(-90)" font-size="41.65" text-anchor="end" fill="#00b2b2">male_secondhalf,touch</text>
<text transform="translate(1822.51,1664) rotate(-90)" font-size="41.65" text-anchor="end" fill="#002eb2">female_firsthalf,touch</text>
<text transform="translate(1879.28,1664) rotate(-90)" font-size="41.65" text-anchor="end" fill="#b2a100">female_secondhalf,touch</text>
<text transform="translate(1936.05,1664) rotate(-90)" font-size="41.65" text-anchor="end" fill="#00008b">male_firsthalf,chase</text>
<text transform="translate(1992.82,1664) rotate(-90)" font-size="41.65" text-anchor="end" fill="#007db2">male_secondhalf,chase</text>
<text transform="translate(2049.59,1664) rotate(-90)" font-size="41.65" text-anchor="end" fill="#0068b2">female_firsthalf,chase</text>
<text transform="translate(2106.36,1664) rotate(-90)" font-size="41.65" text-anchor="end" fill="#0059b2">female_secondhalf,chase</text>
<text transform="translate(2163.13,1664) rotate(-90)" font-size="41.65" text-anchor="end" fill="#0012b2">firsthalf,wingextension</text>
<text transform="translate(2219.90,1664) rotate(-90)" font-size="41.65" text-anchor="end" fill="#0eb2a4">secondhalf,wingextension</text>
<text transform="translate(2276.67,1664) rotate(-90)" font-size="41.65" text-anchor="end" fill="#0000a1">firsthalf,wingflick</text>
<text transform="translate(2333.44,1664) rotate(-90)" font-size="41.65" text-anchor="end" fill="#000bb2">secondhalf,wingflick</text>
</svg></body></html>
